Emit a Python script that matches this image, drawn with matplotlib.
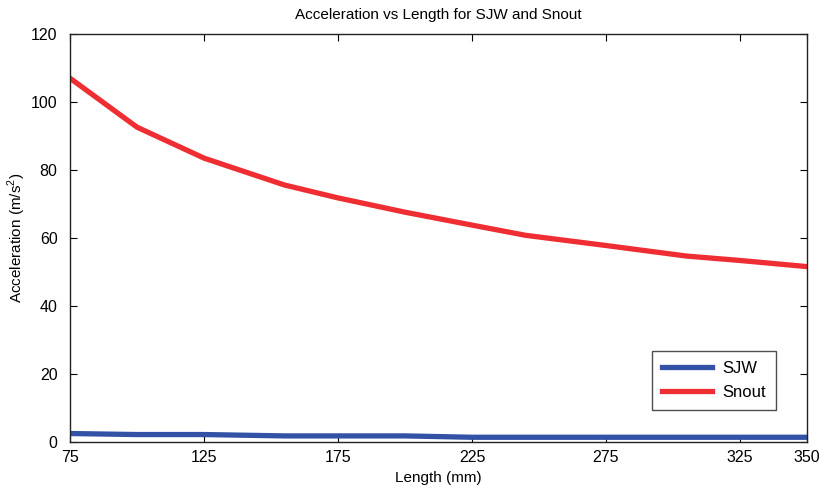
import matplotlib
matplotlib.use("Agg")
import matplotlib.pyplot as plt

plt.rcParams['font.family'] = ['Liberation Sans', 'DejaVu Sans']
plt.rcParams['mathtext.fontset'] = 'custom'
plt.rcParams['mathtext.rm'] = 'Liberation Sans'

length = [75, 100, 125, 155, 175, 200, 225, 245, 275, 305, 325, 350]
snout = [107, 92.6, 83.5, 75.6, 71.8, 67.6, 63.8, 60.8, 57.8, 54.7, 53.4, 51.6]
sjw = [2.5, 2.2, 2.2, 1.8, 1.8, 1.8, 1.4, 1.4, 1.4, 1.4, 1.4, 1.4]
xticks = [75, 125, 175, 225, 275, 325, 350]
yticks = [0, 20, 40, 60, 80, 100, 120]

fig = plt.figure(figsize=(8.2, 4.93), dpi=100)
ax = fig.add_axes([0.0854, 0.1034, 0.8986, 0.8276])
ax.plot(length, sjw, color='#3352A6', lw=3.8, label='SJW', solid_joinstyle='miter')
ax.plot(length, snout, color='#EE2E33', lw=3.8, label='Snout', solid_joinstyle='miter')
ax.set_xlim(75, 350)
ax.set_ylim(0, 120)
ax.set_xticks(xticks)
ax.set_yticks(yticks)
ax.tick_params(direction='in', top=True, right=True, labelsize=11.5, length=5, width=0.8, pad=6)
ax.tick_params(axis='y', pad=9)
for s in ax.spines.values():
    s.set_linewidth(1.0)
    s.set_color('#222222')
ax.set_title('Acceleration vs Length for SJW and Snout', fontsize=11, pad=11)
ax.set_xlabel('Length (mm)', fontsize=11, labelpad=4)
ax.set_ylabel('Acceleration (m/s$^2$)', fontsize=11, labelpad=2)
leg = ax.legend(loc='lower right', bbox_to_anchor=(0.958, 0.078), borderaxespad=0, fontsize=12,
                frameon=True, fancybox=False, edgecolor='#222222', handlelength=3.0,
                borderpad=0.6, labelspacing=0.55, handletextpad=0.6)
leg.get_frame().set_linewidth(1.0)
fig.savefig('out.png', dpi=100)
